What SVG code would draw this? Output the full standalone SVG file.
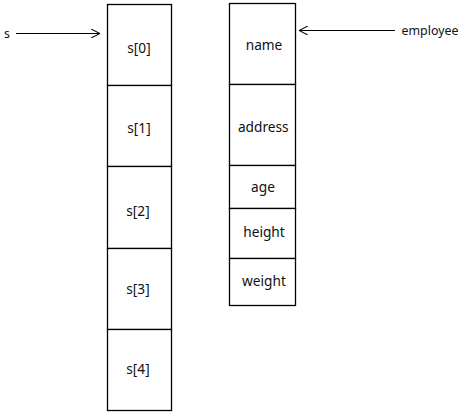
<svg xmlns="http://www.w3.org/2000/svg" width="463" height="413" viewBox="0 0 463 413">
<style>
.cell{fill:#fff;stroke:#000;stroke-width:1.3}
.t{font-family:"Noto Sans","Open Sans","DejaVu Sans",sans-serif;font-size:13.7px;fill:#111;text-anchor:middle;dominant-baseline:central}
.l{font-family:"Noto Sans","Open Sans","DejaVu Sans",sans-serif;font-size:12.4px;fill:#111;dominant-baseline:central}
.c{stroke:#000;stroke-width:1.2;fill:none}
</style>
<defs>
<marker id="ah" viewBox="0 0 10 10" refX="10" refY="5" markerWidth="9" markerHeight="9" markerUnits="userSpaceOnUse" orient="auto">
<path d="M0,0 L10,5 L0,10" fill="none" stroke="#000" stroke-width="1.2"/>
</marker>
</defs>
<rect width="463" height="413" fill="#fff"/>
<g id="s0"><rect class="cell" x="107.5" y="4.5" width="64" height="81"/><text class="t" x="139" y="47">s[0]</text></g>
<g id="s1"><rect class="cell" x="107.5" y="85.5" width="64" height="81"/><text class="t" x="139" y="127">s[1]</text></g>
<g id="s2"><rect class="cell" x="107.5" y="166.5" width="64" height="82"/><text class="t" x="138" y="210">s[2]</text></g>
<g id="s3"><rect class="cell" x="107.5" y="248.5" width="64" height="81"/><text class="t" x="138" y="288">s[3]</text></g>
<g id="s4"><rect class="cell" x="107.5" y="329.5" width="64" height="81"/><text class="t" x="138" y="368">s[4]</text></g>
<g id="name"><rect class="cell" x="229.5" y="3.5" width="66" height="81"/><text class="t" x="264" y="44">name</text></g>
<g id="address"><rect class="cell" x="229.5" y="84.5" width="66" height="81"/><text class="t" x="263.3" y="126">address</text></g>
<g id="age"><rect class="cell" x="229.5" y="165.5" width="66" height="43"/><text class="t" x="263" y="186">age</text></g>
<g id="height"><rect class="cell" x="229.5" y="208.5" width="66" height="50"/><text class="t" x="264" y="231">height</text></g>
<g id="weight"><rect class="cell" x="229.5" y="258.5" width="66" height="47"/><text class="t" x="264" y="280">weight</text></g>
<g id="label-s"><text class="l" x="4" y="33">s</text></g>
<g id="label-employee"><text class="l" x="401.5" y="30">employee</text></g>
<g id="connectors">
<line class="c" x1="16" y1="33.5" x2="100" y2="33.5" marker-end="url(#ah)"/>
<line class="c" x1="395" y1="30.5" x2="299" y2="30.5" marker-end="url(#ah)"/>
</g>
</svg>
